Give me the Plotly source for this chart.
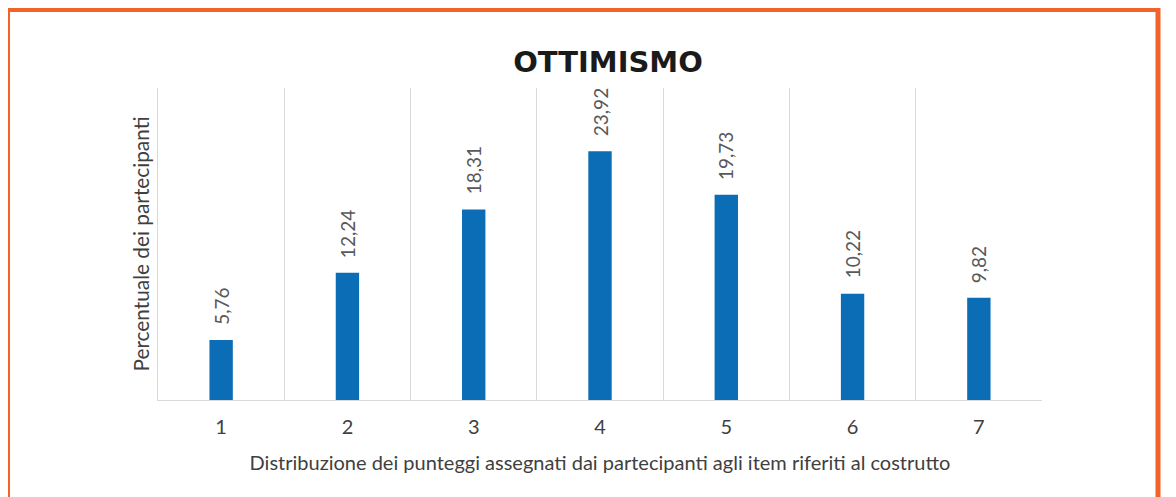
import plotly.graph_objects as go

categories = ["1", "2", "3", "4", "5", "6", "7"]
values = [5.76, 12.24, 18.31, 23.92, 19.73, 10.22, 9.82]
title_text = "OTTIMISMO"
x_title = "Distribuzione dei punteggi assegnati dai partecipanti agli item riferiti al costrutto"
y_title = "Percentuale dei partecipanti"

OFF = 8  # default page body margin
W, H = 1176 - OFF, 497 - OFF
L, R, T, B = 158 - OFF, 1042 - OFF, 88 - OFF, 400 - OFF

BAR = "#0a6db6"
GRID = "#d9d9d9"
TXT = "#595959"
FONT = "Lato, Open Sans, sans-serif"

fig = go.Figure()
fig.add_trace(go.Bar(
    x=categories, y=values, marker=dict(color=BAR, line=dict(width=0)),
    hoverinfo="x+y",
))

for i, v in enumerate(values):
    fig.add_annotation(
        x=i, y=v, text=f"{v:.2f}".replace(".", ","), textangle=-90,
        showarrow=False, yanchor="bottom", xanchor="center", yshift=13,
        font=dict(family=FONT, size=19, color=TXT),
    )

pw = R - L
ph = B - T
def px(x):
    return (x - OFF - L) / pw
def py(y):
    return (B - (y - OFF)) / ph

fig.add_shape(type="rect", xref="paper", yref="paper",
              x0=px(7.5), x1=px(1158), y0=py(560), y1=py(9.5),
              line=dict(color="#f2632a", width=5), fillcolor="rgba(0,0,0,0)", layer="above")

fig.update_layout(
    width=W, height=H,
    margin=dict(l=L, r=W - R, t=T, b=H - B, pad=0, autoexpand=False),
    paper_bgcolor="white", plot_bgcolor="white",
    bargap=0.815,
    showlegend=False,
    title=dict(text=f"<b>{title_text}</b>", x=(608 - OFF) / W, xanchor="center",
               y=1 - (62 - OFF) / H, yanchor="middle",
               font=dict(family="DejaVu Sans, sans-serif", size=29, color="#1a1a1a")),
    xaxis=dict(
        type="category", tickson="boundaries", showgrid=True, gridcolor=GRID, gridwidth=1,
        range=[-0.5, 6.5], automargin=False,
        showline=True, linecolor=GRID, linewidth=1, ticks="", mirror=False,
        ticklabelstandoff=9,
        tickfont=dict(family=FONT, size=20, color="#404040"),
        title=dict(text=x_title, standoff=18, font=dict(family=FONT, size=20, color="#404040")),
        fixedrange=True,
    ),
    yaxis=dict(
        range=[0, 30], showgrid=False, zeroline=False, showticklabels=False, ticks="",
        showline=True, linecolor=GRID, linewidth=1, automargin=False,
        title=dict(text=y_title, standoff=1, font=dict(family=FONT, size=20.8, color="#404040")),
        fixedrange=True,
    ),
)

fig.write_html("out.html")
